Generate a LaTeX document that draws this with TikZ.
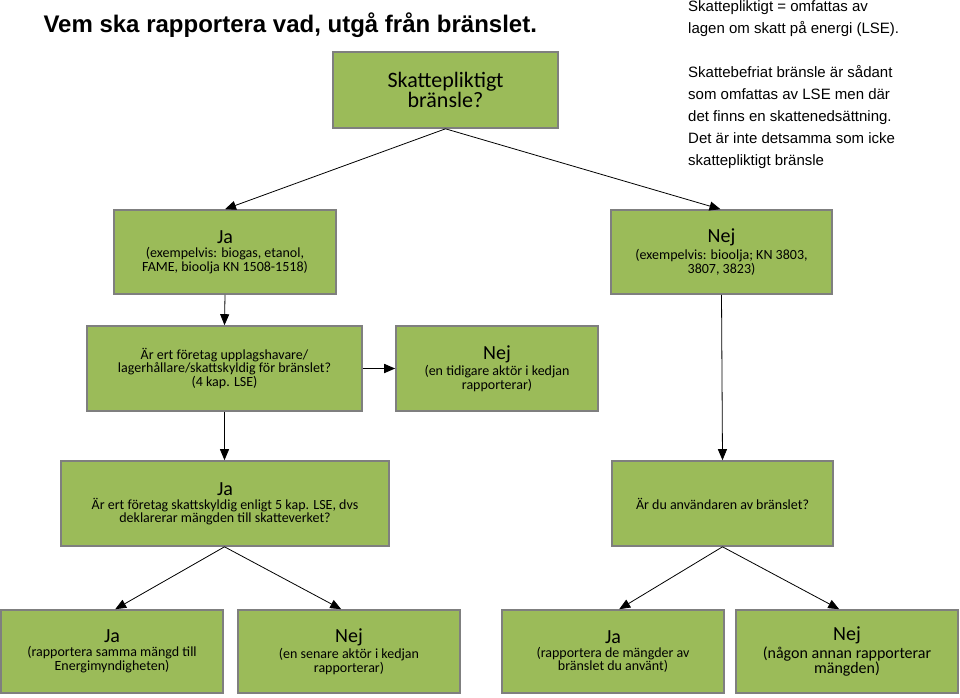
\documentclass[tikz,border=0pt]{standalone}
\usepackage{fontspec}
\setmainfont{Carlito}
\newfontfamily\arialf{Liberation Sans}
\usetikzlibrary{arrows.meta}
\definecolor{boxg}{HTML}{9BBB59}
\definecolor{boxe}{HTML}{7F7F7F}
\begin{document}
\begin{tikzpicture}[x=1pt,y=-1pt,
  box/.style={draw=boxe,line width=1.6pt,fill=boxg,align=center,inner sep=0pt},
  big/.style={font=\fontsize{20}{22}\selectfont},
  sm/.style={font=\fontsize{14}{20}\selectfont},
  arr/.style={-{Triangle[length=11pt,width=9pt]},line width=0.8pt}]
\useasboundingbox (0,0) rectangle (960,697);
\newcommand{\bx}[6]{\node[box,minimum width=#4-#2,minimum height=#5-#3] (#1) at ({(#2+#4)/2},{(#3+#5)/2}) {#6};}
\node[font=\arialf\bfseries\fontsize{24}{28}\selectfont,anchor=west] (title) at (40,25) {Vem ska rapportera vad, utgå från bränslet.};
\node[font=\arialf\fontsize{15}{22}\selectfont,anchor=north west,align=left,inner sep=0pt] (note) at (688,0)
{Skattepliktigt = omfattas av\\lagen om skatt på energi (LSE).\\[22pt]Skattebefriat bränsle är sådant\\som omfattas av LSE men där\\det finns en skattenedsättning.\\Det är inte detsamma som icke\\skattepliktigt bränsle};
\bx{top}{333}{52}{558}{128}{\fontsize{22}{28}\selectfont Skattepliktigt\\\fontsize{22}{28}\selectfont bränsle?}
\bx{ja1}{114}{210}{336}{294}{{\fontsize{20}{24}\selectfont Ja}\\[2pt]\fontsize{14}{20}\selectfont (exempelvis: biogas, etanol,\\\fontsize{14}{20}\selectfont FAME, bioolja KN 1508-1518)}
\bx{nej1}{611}{210}{832}{294}{{\fontsize{20}{24}\selectfont Nej}\\[2pt]\fontsize{14}{20}\selectfont (exempelvis: bioolja; KN 3803,\\\fontsize{14}{20}\selectfont 3807, 3823)}
\bx{q2}{87}{326}{362}{411}{\fontsize{14}{20}\selectfont Är ert företag upplagshavare/\\\fontsize{14}{20}\selectfont lagerhållare/skattskyldig för bränslet?\\\fontsize{14}{20}\selectfont (4 kap. LSE)}
\bx{nej2}{396}{326}{598}{411}{{\fontsize{20}{24}\selectfont Nej}\\[2pt]\fontsize{14}{20}\selectfont (en tidigare aktör i kedjan\\\fontsize{14}{20}\selectfont rapporterar)}
\bx{ja3}{61}{461}{389}{546}{{\fontsize{20}{24}\selectfont Ja}\\[2pt]\fontsize{14}{20}\selectfont Är ert företag skattskyldig enligt 5 kap. LSE, dvs\\\fontsize{14}{20}\selectfont deklarerar mängden till skatteverket?}
\bx{q3}{612}{461}{833}{546}{\fontsize{14}{20}\selectfont Är du användaren av bränslet?}
\bx{b1}{1}{610}{223}{693}{{\fontsize{20}{24}\selectfont Ja}\\[2pt]\fontsize{14}{20}\selectfont (rapportera samma mängd till\\\fontsize{14}{20}\selectfont Energimyndigheten)}
\bx{b2}{238}{610}{460}{693}{{\fontsize{20}{24}\selectfont Nej}\\[2pt]\fontsize{14}{20}\selectfont (en senare aktör i kedjan\\\fontsize{14}{20}\selectfont rapporterar)}
\bx{b3}{502}{610}{724}{693}{{\fontsize{20}{24}\selectfont Ja}\\[2pt]\fontsize{14}{20}\selectfont (rapportera de mängder av\\\fontsize{14}{20}\selectfont bränslet du använt)}
\bx{b4}{736}{610}{958}{693}{{\fontsize{20}{24}\selectfont Nej}\\[2pt]\fontsize{16}{22}\selectfont (någon annan rapporterar\\\fontsize{16}{22}\selectfont mängden)}
\draw[arr] (top.south) -- (ja1.north);
\draw[arr] (top.south) -- ([xshift=-1pt]nej1.north);
\draw[arr] (ja1.south) -- (q2.north);
\draw[arr,line width=1.6pt] (q2.east) -- (nej2.west);
\draw[arr] (q2.south) -- (ja3.north -| q2.south);
\draw[arr] (nej1.south) -- (q3.north);
\draw[arr] (ja3.south -| q2.south) -- ([xshift=115pt]b1.north west);
\draw[arr] (ja3.south -| q2.south) -- ([xshift=104pt]b2.north west);
\draw[arr] (q3.south) -- ([xshift=118pt]b3.north west);
\draw[arr] (q3.south) -- ([xshift=104pt]b4.north west);
\end{tikzpicture}
\end{document}
